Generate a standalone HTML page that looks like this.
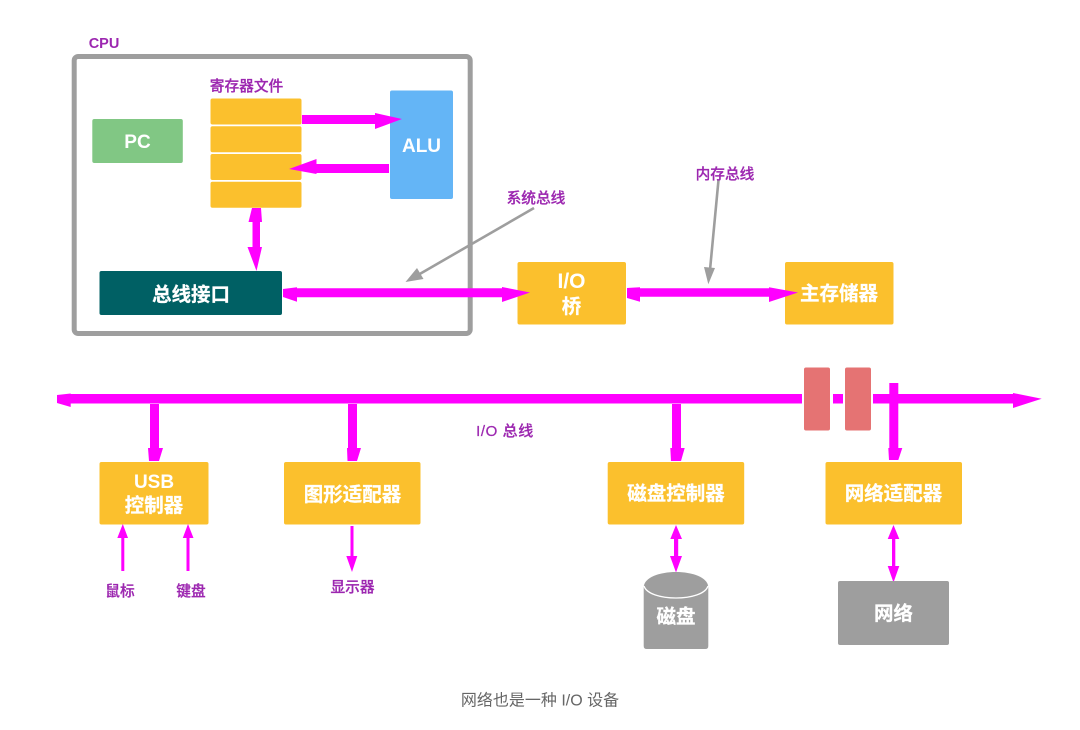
<!DOCTYPE html>
<html><head><meta charset="utf-8">
<style>
html,body{margin:0;padding:0;background:#fff;width:1080px;height:730px;overflow:hidden}
svg{display:block;filter:blur(.35px)}
text{font-family:"Liberation Sans","Noto Sans CJK SC",sans-serif;text-anchor:middle}
.w{fill:#fff;font-weight:700;font-size:19px}
.c{font-size:19.500px;stroke:#fff;stroke-width:.25}
.p{fill:#9c27b0;font-size:14.700px;font-weight:500;stroke:#9c27b0;stroke-width:.25}
</style></head><body>
<svg width="1080" height="730" viewBox="0 0 1080 730" xmlns="http://www.w3.org/2000/svg">
<rect x="74.200" y="56.500" width="396" height="277" rx="4" fill="none" stroke="#9e9e9e" stroke-width="5"/>
<g fill="#fbc02d">
<rect x="210.500" y="98.500" width="91" height="26" rx="2"/>
<rect x="210.500" y="126.300" width="91" height="26" rx="2"/>
<rect x="210.500" y="154" width="91" height="26" rx="2"/>
<rect x="210.500" y="181.700" width="91" height="26" rx="2"/>
<rect x="517.500" y="262" width="108.500" height="62.500" rx="2"/>
<rect x="785" y="262" width="108.500" height="62.500" rx="2"/>
<rect x="99.500" y="462" width="109" height="62.500" rx="2"/>
<rect x="284" y="462" width="136.500" height="62.500" rx="2"/>
<rect x="607.700" y="462" width="136.500" height="62.500" rx="2"/>
<rect x="825.500" y="462" width="136.500" height="62.500" rx="2"/>
</g>
<rect x="390" y="90.500" width="63" height="108.500" rx="2" fill="#64b5f6"/>
<rect x="92.300" y="119" width="90.500" height="44" rx="2" fill="#81c784"/>
<rect x="99.500" y="271" width="182.500" height="44" rx="2" fill="#006064"/>

<g fill="#f0f">
<!-- register <-> ALU -->
<polygon points="302,115 375,115 375,113 402,119 375,129 375,124 302,124"/>
<polygon points="389,164 316.500,164 316.500,159 289,169 316.500,174 316.500,173 389,173"/>
<!-- register <-> bus iface -->
<polygon points="252,208 261,208 262,222 260,222 260,247 262,247 256.500,271 247.500,247 252.500,247 252.500,222 248.500,222"/>
<!-- system bus -->
<polygon points="283,289 297,287.300 297,288.300 502,288.300 502,287 530,292.500 502,302 502,297.300 297,297.300 297,301.700 283,297"/>
<!-- memory bus -->
<polygon points="627,288 640,287.300 640,288.300 769,288.300 769,287.300 798,292.500 769,302 769,296.800 640,296.800 640,301.700 627,298"/>
<!-- IO bus -->
<polygon points="57,395 70.700,393.500 70.700,394 1013,394 1013,393 1041.700,398.700 1013,408 1013,403.500 70.700,403.500 70.700,407 57,403"/>
<!-- drops -->
<polygon points="150,404 159,404 159,448 163,448 159,461 149,461 148,448 150,448"/>
<polygon points="348,404 357,404 357,448 361,448 357,461 347.500,461 347,448 348,448"/>
<polygon points="672,404 681,404 681,448 684.700,448 681,461 671,461 670.300,448 672,448"/>
<!-- small arrows -->
<polygon points="121.300,571 124.300,571 124.300,538 128,538 122.800,524 117.300,538 121.300,538"/>
<polygon points="186.500,571 189.500,571 189.500,538 193.500,538 188,524 182.800,538 186.500,538"/>
<polygon points="350.500,526 353.500,526 353.500,556 357.300,556 352,572 346.300,556 350.500,556"/>
<polygon points="676,525 682,539 678.200,539 678.200,556 682,556 676,572.500 670,556 674,556 674,539 670.300,539"/>
<polygon points="893.500,525 899.300,539 895.300,539 895.300,566 899.300,566 893.500,582.500 887.700,566 892,566 892,539 887.700,539"/>
</g>
<!-- bus gaps & bridges -->
<rect x="802" y="390" width="2" height="18" fill="#fff"/>
<rect x="830" y="390" width="3" height="18" fill="#fff"/>
<rect x="843" y="390" width="2" height="18" fill="#fff"/>
<rect x="871" y="390" width="2" height="18" fill="#fff"/>
<rect x="804" y="367.500" width="26" height="63" rx="2" fill="#e57373"/>
<rect x="845" y="367.500" width="26" height="63" rx="2" fill="#e57373"/>
<polygon fill="#f0f" points="889.300,383 898.300,383 898.300,448 902.300,448 898.300,460 889,460 888.300,448 889.300,448"/>

<!-- grey pointer arrows -->
<line x1="534" y1="208" x2="418" y2="275" stroke="#9e9e9e" stroke-width="2.600"/>
<polygon points="405.500,282 417,268 423.500,279" fill="#9e9e9e"/>
<line x1="718.500" y1="180" x2="710" y2="270" stroke="#9e9e9e" stroke-width="2.600"/>
<polygon points="708.300,284.300 704,267 715,268" fill="#9e9e9e"/>

<!-- disk + network -->
<path d="M643.700 587 C645 567 707 567 708.300 587 L708.300 646 Q708.300 649 705.300 649 L646.700 649 Q643.700 649 643.700 646 Z" fill="#9e9e9e"/>
<path d="M644 586 C649 602 703 602 708 586" fill="none" stroke="#fff" stroke-width="1.300"/>
<rect x="838" y="581" width="111" height="64" rx="2" fill="#9e9e9e"/>

<!-- labels -->
<text class="p" x="104" y="48" style="font-size:14.500px;font-weight:700;stroke:none">CPU</text>
<text class="p" x="246.500" y="91">寄存器文件</text>
<text class="w" x="137.500" y="148">PC</text>
<text class="w" x="421.500" y="152">ALU</text>
<text class="w c" x="191" y="301">总线接口</text>
<text class="p" x="536" y="203">系统总线</text>
<text class="p" x="725" y="179">内存总线</text>
<text class="w" x="571.500" y="288" style="font-size:21px">I/O</text>
<text class="w c" x="571.500" y="313">桥</text>
<text class="w c" x="839" y="300">主存储器</text>
<text class="p" x="505" y="436" style="font-size:15px;letter-spacing:.6px">I/O 总线</text>
<text class="w" x="154" y="488">USB</text>
<text class="w c" x="154" y="512">控制器</text>
<text class="w c" x="352.500" y="501">图形适配器</text>
<text class="w c" x="676" y="500">磁盘控制器</text>
<text class="w c" x="893.500" y="500">网络适配器</text>
<text class="w c" x="676" y="623">磁盘</text>
<text class="w c" x="893.500" y="620">网络</text>
<text class="p" x="120" y="596">鼠标</text>
<text class="p" x="191" y="596">键盘</text>
<text class="p" x="352.500" y="592">显示器</text>
<text x="540" y="705.500" style="font-size:16px;fill:#666">网络也是一种 I/O 设备</text>
</svg>
</body></html>
